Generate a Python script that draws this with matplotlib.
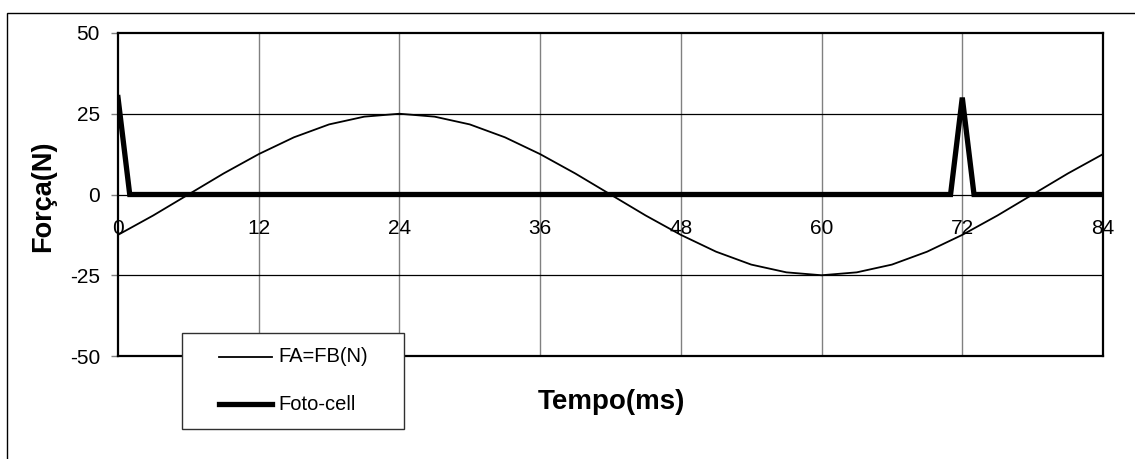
import matplotlib
matplotlib.use("Agg")
import matplotlib.pyplot as plt
from matplotlib.lines import Line2D
from matplotlib.patches import Rectangle

plt.rcParams['font.family'] = ['Liberation Sans', 'DejaVu Sans']

# Data
tempo = [0, 3, 6, 9, 12, 15, 18, 21, 24, 27, 30, 33, 36, 39, 42, 45, 48, 51,
         54, 57, 60, 63, 66, 69, 72, 75, 78, 81, 84]
fa_fb = [-12.5, -6.5, 0, 6.5, 12.5, 17.7, 21.7, 24.1, 25, 24.1, 21.7, 17.7, 12.5,
         6.5, 0, -6.5, -12.5, -17.7, -21.7, -24.1, -25, -24.1, -21.7, -17.7,
         -12.5, -6.5, 0, 6.5, 12.5]
foto_t = [0, 1, 71, 72, 73, 84]
foto_v = [30, 0, 0, 30, 0, 0]
xticks = [0, 12, 24, 36, 48, 60, 72, 84]
yticks = [-50, -25, 0, 25, 50]
series_labels = ["FA=FB(N)", "Foto-cell"]

W, H = 1135, 459
fig = plt.figure(figsize=(W / 100, H / 100), dpi=100)
ax = fig.add_axes([118 / W, 1 - 356 / H, (1103 - 118) / W, (356 - 33) / H])

ax.set_xlim(0, 84)
ax.set_ylim(-50, 50)

# grid lines
for xv in xticks[1:-1]:
    ax.axvline(xv, color='#808080', lw=1.0, zorder=1)
for yv in yticks[1:-1]:
    ax.axhline(yv, color='black', lw=0.9, zorder=1)

ax.plot(tempo, fa_fb, color='black', lw=1.3, zorder=3)
ax.plot(foto_t, foto_v, color='black', lw=3.8, zorder=4, solid_joinstyle='miter')

for s in ax.spines.values():
    s.set_linewidth(1.6)
    s.set_color('black')

ax.set_yticks(yticks)
ax.set_yticklabels([str(v) for v in yticks])
ax.tick_params(axis='y', direction='out', length=5, width=1, color='#808080',
               pad=8, labelsize=15)
ax.set_xticks([])

# x tick labels sit on the zero line
for xv in xticks:
    ax.annotate(str(xv), xy=(xv, 0), xytext=(0, -25), textcoords='offset pixels',
                ha='center', va='top', fontsize=15, zorder=5)

fig.text(43 / W, 1 - 196 / H, "Força(N)", rotation=90, fontsize=19.5,
         fontweight='bold', ha='center', va='center')
fig.text(611 / W, 1 - 402 / H, "Tempo(ms)", fontsize=20, fontweight='bold',
         ha='center', va='center')

# legend box (manual)
fig.patches.append(Rectangle((182 / W, 1 - 429 / H), (404 - 182) / W, (429 - 333) / H,
                             transform=fig.transFigure, facecolor='white',
                             edgecolor='#303030', lw=1.0, zorder=10))
for i, (lab, lw) in enumerate(zip(series_labels, [1.3, 3.8])):
    yy = 1 - (357 + 47 * i) / H
    fig.lines.append(Line2D([219 / W, 272 / W], [yy, yy], transform=fig.transFigure,
                            color='black', lw=lw, zorder=11))
    fig.text(278 / W, yy, lab, fontsize=14.5, ha='left', va='center', zorder=12)

# outer figure border (left and top visible)
fig.patches.append(Rectangle((7 / W, -0.05), 1.1, 1 - 13 / H + 0.05,
                             transform=fig.transFigure, facecolor='none',
                             edgecolor='black', lw=1.0))

fig.savefig("out.png", dpi=100)
